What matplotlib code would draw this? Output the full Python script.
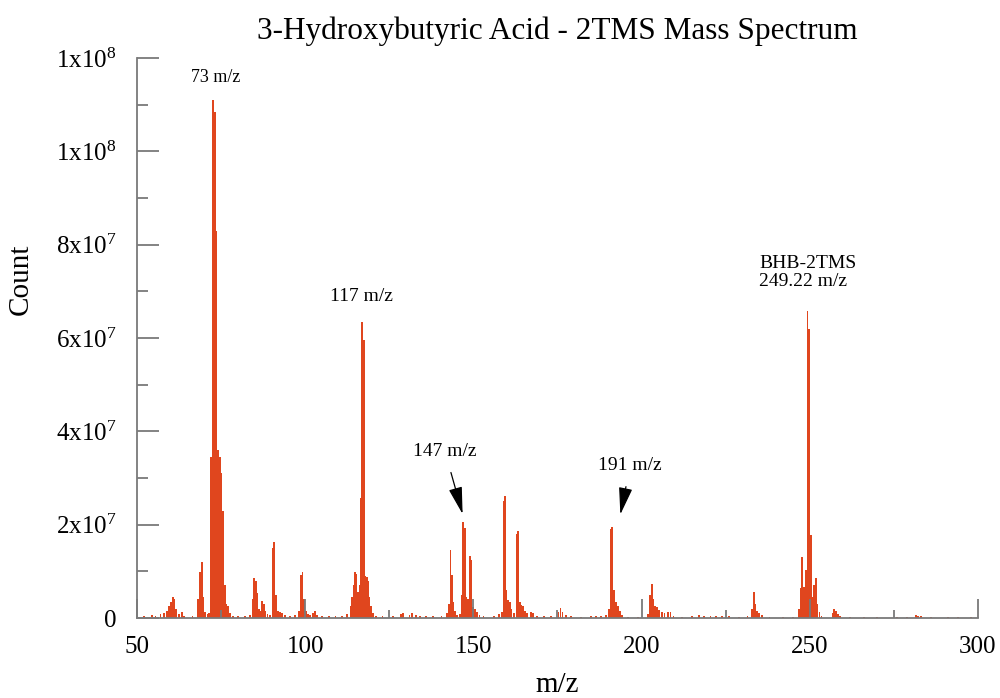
import matplotlib
matplotlib.use("Agg")
import matplotlib.pyplot as plt
from matplotlib.ticker import MultipleLocator

plt.rcParams['font.family'] = ['Liberation Serif', 'DejaVu Serif']
plt.rcParams['mathtext.default'] = 'regular'

# profile sticks (m/z, counts)
mz = [52.0, 54.5, 55.5, 57.0, 58.0, 59.0, 59.5, 60.2, 60.7, 61.1, 61.6, 62.5, 63.3, 64.0, 66.5,
      68.2, 68.7, 69.2, 69.7, 70.3, 71.0, 71.5,
      72.0, 72.6, 73.1, 73.6, 74.1, 74.6, 75.1, 75.6, 76.1, 76.6, 77.1, 77.6,
      78.5, 80.0, 82.0, 83.5,
      84.4, 84.8, 85.3, 85.7, 86.2, 86.7, 87.2, 87.7, 88.2, 88.8, 89.5,
      90.3, 90.8, 91.3, 91.8, 92.5, 93.2, 94.0, 95.5, 97.0,
      98.2, 98.7, 99.2, 99.7, 100.2, 100.8, 101.5, 102.3, 102.9, 103.5,
      105.0, 107.0, 109.0, 111.0, 112.5,
      113.5, 114.0, 114.4, 114.8, 115.2, 115.7, 116.2, 116.6, 117.0, 117.4, 117.8,
      118.3, 118.7, 119.1, 119.6, 120.1, 121.0, 123.0, 126.0,
      128.5, 129.0, 131.0, 131.7, 133.0, 134.0, 136.0, 138.0, 140.5,
      142.2, 142.8, 143.2, 143.6, 144.1, 144.6, 145.2, 146.0,
      146.7, 147.0, 147.4, 147.9, 148.4, 148.9, 149.3, 149.8, 150.4, 151.0, 151.8, 153.0,
      156.0, 157.5, 158.5, 159.0, 159.4, 159.8, 160.3, 160.8, 161.3, 162.0,
      162.9, 163.3, 163.8, 164.3, 164.8, 165.4, 166.0, 167.2, 167.7,
      169.0, 171.0, 173.0, 175.3, 175.9, 176.5, 177.5, 179.0, 182.0,
      185.0, 186.5, 188.0, 189.5,
      190.4, 190.9, 191.3, 191.8, 192.3, 192.9, 193.5, 194.2, 196.0, 199.0,
      202.0, 202.6, 203.1, 203.5, 204.0, 204.6, 205.2, 206.0, 206.8, 207.8, 208.6, 209.5,
      212.0, 215.0, 217.0, 218.5, 220.5, 222.0, 224.0, 226.0, 229.0, 231.5,
      232.8, 233.3, 233.8, 234.3, 235.0, 235.8, 238.0, 242.0, 245.0,
      246.8, 247.3, 247.8, 248.3, 248.8, 249.3, 249.7, 250.3, 250.8, 251.3, 251.8,
      252.3, 252.9, 253.5,
      256.9, 257.3, 257.8, 258.4, 259.0,
      262.0, 266.0, 270.0, 276.0, 279.0, 281.5, 282.2, 283.0, 286.0, 291.0, 294.0, 298.0]

counts = [0.05e7, 0.06e7, 0.05e7, 0.08e7, 0.10e7, 0.15e7, 0.25e7, 0.35e7, 0.45e7, 0.40e7, 0.20e7, 0.08e7, 0.12e7, 0.05e7, 0.05e7,
          0.40e7, 0.98e7, 1.20e7, 0.45e7, 0.12e7, 0.08e7, 0.10e7,
          3.45e7, 11.10e7, 10.85e7, 8.30e7, 3.60e7, 3.45e7, 3.10e7, 2.30e7, 0.70e7, 0.30e7, 0.25e7, 0.10e7,
          0.05e7, 0.04e7, 0.05e7, 0.06e7,
          0.40e7, 0.86e7, 0.80e7, 0.54e7, 0.20e7, 0.15e7, 0.36e7, 0.30e7, 0.15e7, 0.08e7, 0.06e7,
          1.50e7, 1.63e7, 0.50e7, 0.15e7, 0.12e7, 0.10e7, 0.06e7, 0.04e7, 0.06e7,
          0.15e7, 0.92e7, 0.99e7, 0.40e7, 0.15e7, 0.08e7, 0.06e7, 0.10e7, 0.14e7, 0.06e7,
          0.04e7, 0.05e7, 0.04e7, 0.05e7, 0.08e7,
          0.25e7, 0.45e7, 0.70e7, 0.99e7, 0.95e7, 0.55e7, 0.70e7, 2.57e7, 6.35e7, 5.96e7, 0.90e7,
          0.88e7, 0.80e7, 0.45e7, 0.25e7, 0.10e7, 0.05e7, 0.04e7, 0.04e7,
          0.08e7, 0.10e7, 0.07e7, 0.10e7, 0.06e7, 0.05e7, 0.05e7, 0.04e7, 0.05e7,
          0.10e7, 0.30e7, 1.46e7, 0.92e7, 0.35e7, 0.15e7, 0.06e7, 0.08e7,
          0.50e7, 2.06e7, 1.93e7, 0.45e7, 0.40e7, 1.33e7, 1.25e7, 0.24e7, 0.20e7, 0.12e7, 0.06e7, 0.04e7,
          0.05e7, 0.08e7, 0.12e7, 2.50e7, 2.62e7, 0.60e7, 0.39e7, 0.35e7, 0.20e7, 0.10e7,
          1.80e7, 1.87e7, 0.35e7, 0.28e7, 0.25e7, 0.15e7, 0.10e7, 0.13e7, 0.10e7,
          0.04e7, 0.05e7, 0.04e7, 0.13e7, 0.22e7, 0.12e7, 0.06e7, 0.04e7, 0.03e7,
          0.05e7, 0.05e7, 0.05e7, 0.06e7,
          0.20e7, 1.90e7, 1.95e7, 0.60e7, 0.34e7, 0.25e7, 0.15e7, 0.06e7, 0.03e7, 0.03e7,
          0.08e7, 0.49e7, 0.73e7, 0.40e7, 0.26e7, 0.24e7, 0.18e7, 0.12e7, 0.10e7, 0.13e7, 0.12e7, 0.04e7,
          0.03e7, 0.04e7, 0.06e7, 0.05e7, 0.05e7, 0.05e7, 0.04e7, 0.04e7, 0.03e7, 0.04e7,
          0.20e7, 0.56e7, 0.30e7, 0.15e7, 0.10e7, 0.06e7, 0.03e7, 0.03e7, 0.03e7,
          0.20e7, 0.64e7, 1.31e7, 0.67e7, 1.03e7, 6.57e7, 6.20e7, 1.78e7, 0.46e7, 0.70e7, 0.86e7,
          0.30e7, 0.12e7, 0.05e7,
          0.10e7, 0.19e7, 0.15e7, 0.08e7, 0.04e7,
          0.02e7, 0.03e7, 0.02e7, 0.02e7, 0.03e7, 0.06e7, 0.05e7, 0.04e7, 0.02e7, 0.03e7, 0.02e7, 0.03e7]

y_ticks = [0, 2e7, 4e7, 6e7, 8e7, 1e8, 1.2e8]
y_tick_labels = ['0', '2x10$^{7}$', '4x10$^{7}$', '6x10$^{7}$', '8x10$^{7}$', '1x10$^{8}$', '1x10$^{8}$']
x_ticks = [50, 100, 150, 200, 250, 300]

bar_color = '#e0461e'
axis_gray = '#7a7a7a'

fig = plt.figure(figsize=(10, 6.98), dpi=100)
ax = fig.add_axes([0.137, 0.1146, 0.841, 0.8023])

ax.bar(mz, counts, width=0.55, color=bar_color, linewidth=0)

ax.set_xlim(50, 300)
ax.set_ylim(0, 1.2e8)

ax.set_xticks(x_ticks)
ax.xaxis.set_minor_locator(MultipleLocator(25))
ax.set_yticks(y_ticks)
ax.set_yticklabels(y_tick_labels)
ax.yaxis.set_minor_locator(MultipleLocator(1e7))

for side in ['top', 'right']:
    ax.spines[side].set_visible(False)
for side in ['left', 'bottom']:
    ax.spines[side].set_color(axis_gray)
    ax.spines[side].set_linewidth(1.3)

ax.tick_params(axis='both', which='both', direction='in', color=axis_gray, width=1.3)
ax.tick_params(axis='y', which='major', length=16, pad=15, labelsize=18)
ax.tick_params(axis='y', which='minor', length=8)
ax.tick_params(axis='x', which='major', length=14, pad=13, labelsize=18)
ax.tick_params(axis='x', which='minor', length=6)

ax.set_title('3-Hydroxybutyric Acid - 2TMS Mass Spectrum', fontsize=22.5, pad=14)
ax.set_xlabel('m/z', fontsize=21, labelpad=10)
ax.set_ylabel('Count', fontsize=21)
ax.yaxis.set_label_coords(-0.123, 0.605)

# peak labels
ax.text(73.5, 11.58e7, '73 m/z', fontsize=13, ha='center', va='center')
ax.text(116.6, 6.88e7, '117 m/z', fontsize=14, ha='center', va='center')
ax.text(249.5, 7.4e7, 'BHB-2TMS\n249.22 m/z', fontsize=14, ha='center', va='center',
        multialignment='left', linespacing=1.1)

arrow = dict(arrowstyle='-|>,head_length=1.2,head_width=0.3', color='black', lw=0.9,
             shrinkA=7, shrinkB=1)
ax.annotate('147 m/z', xy=(146.9, 2.2e7), xytext=(141.6, 3.56e7), fontsize=14,
            ha='center', va='center', arrowprops=arrow)
ax.annotate('191 m/z', xy=(193.6, 2.19e7), xytext=(196.6, 3.26e7), fontsize=14,
            ha='center', va='center', arrowprops=arrow)

fig.savefig('out.png', dpi=100)
